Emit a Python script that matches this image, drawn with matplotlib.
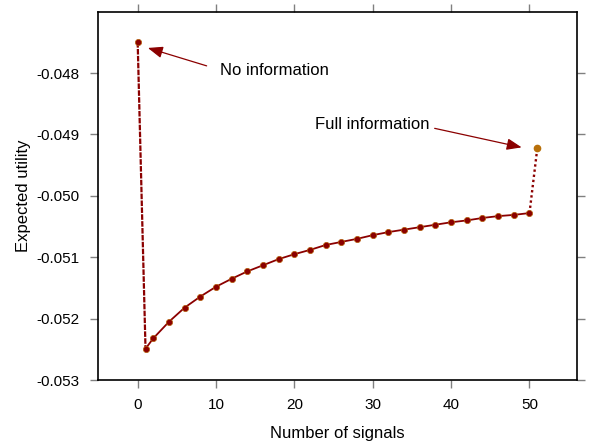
import matplotlib
matplotlib.use('Agg')
import matplotlib.pyplot as plt

plt.rcParams['font.family'] = ['Liberation Sans', 'DejaVu Sans']

# Anzahl Signale und erwarteter Nutzen
signals = [1, 2, 4, 6, 8, 10, 12, 14, 16, 18, 20, 22, 24, 26, 28, 30,
           32, 34, 36, 38, 40, 42, 44, 46, 48, 50]
utility = [-0.05249, -0.05232, -0.05205, -0.05182, -0.05164, -0.05148,
           -0.05135, -0.05123, -0.05113, -0.05103, -0.05095, -0.05088,
           -0.05080, -0.05075, -0.05070, -0.05064, -0.05059, -0.05055,
           -0.05051, -0.05047, -0.05043, -0.05040, -0.05036, -0.05033,
           -0.05031, -0.05028]

no_info_x, no_info_y = 0, -0.047495
full_info_x, full_info_y = 51, -0.04922

red = '#8b0000'
orange = '#b8700a'

fig = plt.figure(figsize=(6.05, 4.44), dpi=100)
ax = fig.add_axes([0.1615, 0.1441, 0.7927, 0.8295])

# gestrichelte Verbindungen zu den Extremfaellen
ax.plot([no_info_x, signals[0]], [no_info_y, utility[0]], color=red,
        lw=1.6, ls=(0, (2.5, 0.6)))
ax.plot([signals[-1], full_info_x], [utility[-1], full_info_y], color=red,
        lw=1.7, ls=(0, (1, 1.2)))
ax.plot(signals, utility, color=red, lw=1.3, marker='o', ms=4.5,
        mfc=red, mec='#b5600a', mew=0.5)
ax.plot([no_info_x], [no_info_y], 'o', ms=4.5, color=red, mec='#b5600a', mew=0.5)
ax.plot([full_info_x], [full_info_y], 'o', ms=4.5, color=orange, mec=orange)

ax.set_xlim(-5.1, 56.1)
ax.set_ylim(-0.053, -0.047)
ax.set_xticks([0, 10, 20, 30, 40, 50])
ax.set_yticks([-0.053, -0.052, -0.051, -0.050, -0.049, -0.048])
ax.set_yticklabels(['-0.053', '-0.052', '-0.051', '-0.050', '-0.049', '-0.048'])
ax.tick_params(direction='out', length=6, width=1, color='#808080',
               labelsize=11, top=True, right=True, pad=7)

for s in ax.spines.values():
    s.set_linewidth(1.2)

ax.set_xlabel('Number of signals', fontsize=12, labelpad=10)
ax.set_ylabel('Expected utility', fontsize=12, labelpad=4)

arrow = dict(arrowstyle='-|>,head_length=0.9,head_width=0.35', color=red,
             lw=0.9, shrinkA=0, shrinkB=0)
ax.annotate('', xy=(1.3, -0.04759), xytext=(8.8, -0.047882), arrowprops=arrow)
ax.text(10.5, -0.047963, 'No information', fontsize=12, va='center', ha='left')
ax.annotate('', xy=(49.0, -0.04921), xytext=(37.9, -0.0489), arrowprops=arrow)
ax.text(22.6, -0.048838, 'Full information', fontsize=12, va='center', ha='left')

fig.savefig('out.png', dpi=100)
